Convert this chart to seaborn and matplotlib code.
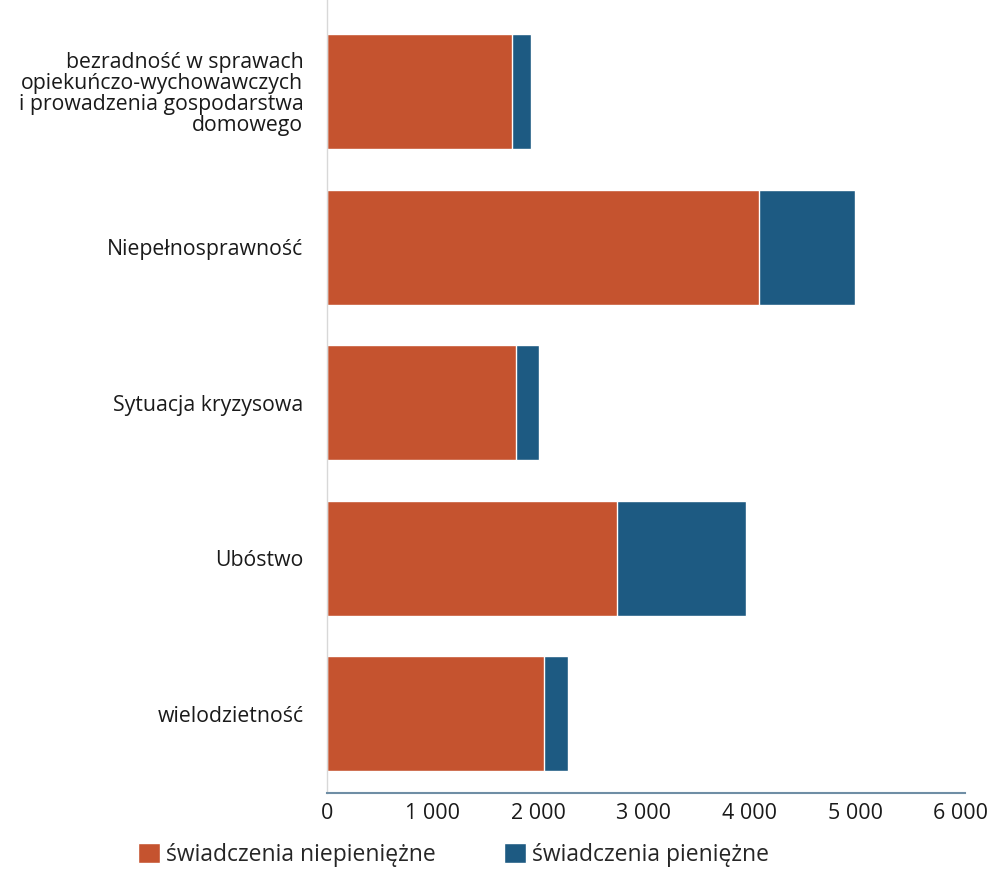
import numpy as np
import pandas as pd
import seaborn as sns
import matplotlib.pyplot as plt
from matplotlib.patches import Patch

kategorie = [
    "bezradność w sprawach\nopiekuńczo-wychowawczych\ni prowadzenia gospodarstwa\ndomowego",
    "Niepełnosprawność",
    "Sytuacja kryzysowa",
    "Ubóstwo",
    "wielodzietność",
]
niepieniezne = [1750, 4090, 1790, 2745, 2055]
pieniezne = [180, 905, 215, 1220, 225]
ticki = [0, 1000, 2000, 3000, 4000, 5000, 6000]
tick_labels = ["0", "1 000", "2 000", "3 000", "4 000", "5 000", "6 000"]
seria = ["świadczenia niepieniężne", "świadczenia pieniężne"]

kolor_pom = "#C5532F"
kolor_nieb = "#1D5A82"

df = pd.DataFrame({"kategoria": kategorie,
                   "niepieniezne": niepieniezne,
                   "pieniezne": pieniezne})
df["razem"] = df["niepieniezne"] + df["pieniezne"]

sns.set_style("white")
plt.rcParams["font.family"] = ["Open Sans", "DejaVu Sans"]

fig = plt.figure(figsize=(9.92, 8.75), dpi=100)
ax = fig.add_axes([327 / 992, 1 - 793 / 875, (965 - 327) / 992, 793 / 875])

# stacked: total in blue, non-cash on top in orange
sns.barplot(data=df, y="kategoria", x="razem", color=kolor_nieb, orient="h",
            width=0.74, saturation=1, ax=ax)
sns.barplot(data=df, y="kategoria", x="niepieniezne", color=kolor_pom, orient="h",
            width=0.74, saturation=1, ax=ax)

ax.set_xlim(0, 6040)
ax.set_ylim(4.51, -0.59)
ax.set_xticks(ticki)
ax.set_xticklabels(tick_labels)
ax.set_xlabel("")
ax.set_ylabel("")
ax.tick_params(axis="x", length=0, labelsize=15.5, pad=7, colors="#1a1a1a")
ax.tick_params(axis="y", length=0, labelsize=15.3, pad=17, colors="#1a1a1a")
for t in ax.get_yticklabels():
    t.set_linespacing(1.0)

for s in ["top", "right"]:
    ax.spines[s].set_visible(False)
ax.spines["left"].set_color("#d8d8d8")
ax.spines["left"].set_linewidth(1.0)
ax.spines["bottom"].set_color("#6f8ea5")
ax.spines["bottom"].set_linewidth(1.5)

uchwyty = [Patch(facecolor=kolor_pom, label=seria[0]),
           Patch(facecolor=kolor_nieb, label=seria[1])]
fig.legend(handles=uchwyty, loc="center", bbox_to_anchor=(0.457, 0.023),
           ncol=2, frameon=False, fontsize=16.5, handlelength=0.95,
           handleheight=0.95, handletextpad=0.25, columnspacing=3.0)

fig.savefig("out.png", dpi=100)
